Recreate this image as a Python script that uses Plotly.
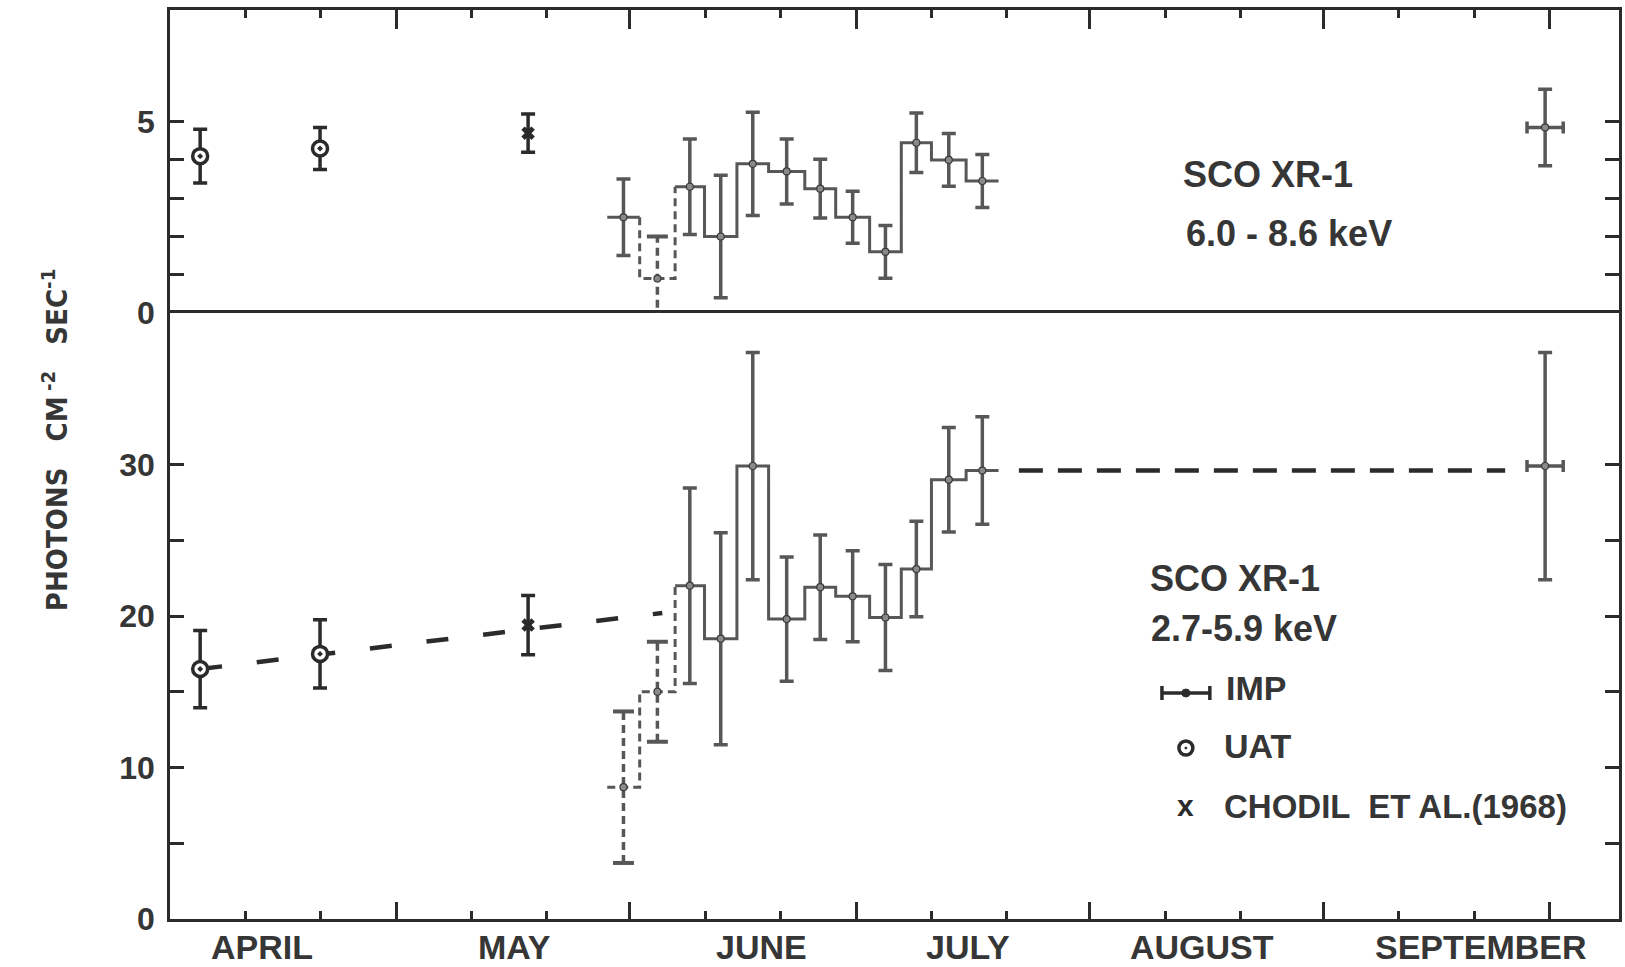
import datetime as dt
import plotly.graph_objects as go

# ---------------------------------------------------------------------------
# Sco X-1 light curves, 1967 (day-of-year on the x axis)
# ---------------------------------------------------------------------------
YEAR = 1967

MONTHS = ["APRIL", "MAY", "JUNE", "JULY", "AUGUST", "SEPTEMBER"]

# UAT measurements
UAT_DAY = [95.0, 110.9]
UAT_HARD = [4.1, 4.3]
UAT_HARD_ERR = [0.7, 0.55]
UAT_SOFT = [16.5, 17.5]
UAT_SOFT_ERR = [2.55, 2.25]

# Chodil et al. (1968)
CHODIL_DAY = [138.5]
CHODIL_HARD = [4.7]
CHODIL_HARD_ERR = [0.5]
CHODIL_SOFT = [19.4]
CHODIL_SOFT_ERR = [1.95]

# IMP binned fluxes: bin edges (day of year) and one value per bin
IMP_EDGES = [149.0, 153.3, 158.0, 161.9, 166.2, 170.4, 175.2,
             179.3, 183.8, 188.0, 192.0, 196.6, 200.9]
IMP_HARD = [2.5, 0.9, 3.3, 2.0, 3.9, 3.7, 3.25, 2.5, 1.6, 4.45, 4.0, 3.45]
IMP_HARD_ERR = [1.0, 1.1, 1.25, 1.6, 1.35, 0.85, 0.77, 0.68, 0.69, 0.78, 0.69, 0.69]
IMP_SOFT = [8.7, 15.0, 22.0, 18.5, 29.9, 19.8, 21.9, 21.3, 19.9, 23.1, 29.0, 29.6]
IMP_SOFT_ERR = [5.0, 3.3, 6.45, 7.0, 7.5, 4.1, 3.45, 3.0, 3.5, 3.15, 3.45, 3.55]

# IMP point at the end of September
SEPT_DAY = [273.4]
SEPT_DAY_ERR = [2.4]
SEPT_HARD = [4.85]
SEPT_HARD_ERR = [1.0]
SEPT_SOFT = [29.9]
SEPT_SOFT_ERR = [7.5]

# Dashed guide lines in the 2.7-5.9 keV panel
TREND_DAY = [95.0, 156.3]
TREND_SOFT = [16.5, 20.2]
LEVEL_DAY = [203.6, 268.1]
LEVEL_SOFT = [29.6, 29.6]

# ---------------------------------------------------------------------------
INK = "#2b2b2b"
GREY = "#575757"
TXT = "#363636"
FONT = "Liberation Sans, Arial, DejaVu Sans, sans-serif"
NARROW = "Liberation Sans Narrow, DejaVu Sans Condensed, Liberation Sans, sans-serif"

W, H = 1625, 967
ML, MR, MT, MB = 170, 3, 10, 48
PW, PH = W - ML - MR, H - MT - MB


def px_x(p):
    return (p - ML) / PW


def px_y(p):
    return (H - MB - p) / PH


def doy(m, d):
    return dt.date(YEAR, m, d).timetuple().tm_yday


month_starts = [doy(m, 1) for m in range(5, 11)]
minor_days = [doy(m, d) for m in range(4, 10) for d in (11, 21)]

fig = go.Figure()


def add_panel(xa, ya, uat, uat_err, cho, cho_err, imp, imp_err, sept, sept_err, dashed):
    centers = [(a + b) / 2 for a, b in zip(IMP_EDGES[:-1], IMP_EDGES[1:])]
    n = len(imp)

    # step outline, split into solid / dashed runs
    segs = []
    for i in range(n):
        segs.append((IMP_EDGES[i], imp[i], IMP_EDGES[i + 1], imp[i], i in dashed))
        if i < n - 1:
            segs.append((IMP_EDGES[i + 1], imp[i], IMP_EDGES[i + 1], imp[i + 1],
                         (i in dashed) or (i + 1 in dashed)))
    runs = []
    for s in segs:
        if runs and runs[-1][0] == s[4]:
            runs[-1][1].append(s[2]); runs[-1][2].append(s[3])
        else:
            runs.append([s[4], [s[0], s[2]], [s[1], s[3]]])
    for is_dash, xs, ys in runs:
        fig.add_trace(go.Scatter(
            x=xs, y=ys, mode="lines", xaxis=xa, yaxis=ya, showlegend=False,
            line=dict(color=GREY, width=3, dash="8px,5px" if is_dash else "solid"),
            hoverinfo="skip"))

    # dashed error bars
    for i in dashed:
        fig.add_trace(go.Scatter(
            x=[centers[i], centers[i]], y=[imp[i] - imp_err[i], imp[i] + imp_err[i]],
            mode="lines+markers", xaxis=xa, yaxis=ya, showlegend=False,
            line=dict(color=GREY, width=3.5, dash="8px,5px"),
            marker=dict(symbol="line-ew", size=15, line=dict(color=GREY, width=4)),
            hoverinfo="skip"))

    solid = [i for i in range(n) if i not in dashed]
    fig.add_trace(go.Scatter(
        x=[centers[i] for i in solid], y=[imp[i] for i in solid],
        mode="markers", xaxis=xa, yaxis=ya, showlegend=False,
        marker=dict(size=1, color=GREY),
        error_y=dict(type="data", array=[imp_err[i] for i in solid],
                     color=GREY, thickness=3.5, width=7)))
    fig.add_trace(go.Scatter(
        x=centers, y=imp, mode="markers", xaxis=xa, yaxis=ya, showlegend=False,
        marker=dict(size=7, color="#8a8a8a", line=dict(color="#3a3a3a", width=1.2))))

    # September IMP point
    fig.add_trace(go.Scatter(
        x=SEPT_DAY, y=sept, mode="markers", xaxis=xa, yaxis=ya, showlegend=False,
        marker=dict(size=7, color="#8a8a8a", line=dict(color="#3a3a3a", width=1.2)),
        error_y=dict(type="data", array=sept_err, color=GREY, thickness=3.5, width=7),
        error_x=dict(type="data", array=SEPT_DAY_ERR, color=GREY, thickness=3.5, width=6)))

    # UAT
    fig.add_trace(go.Scatter(
        x=UAT_DAY, y=uat, mode="markers", xaxis=xa, yaxis=ya, showlegend=False,
        marker=dict(symbol="circle-dot", size=15, color="white",
                    line=dict(color=INK, width=3.5)),
        error_y=dict(type="data", array=uat_err, color=INK, thickness=3.5, width=7)))

    # Chodil et al.
    fig.add_trace(go.Scatter(
        x=CHODIL_DAY, y=cho, mode="markers", xaxis=xa, yaxis=ya, showlegend=False,
        marker=dict(symbol="x", size=12, color=INK, line=dict(width=0)),
        error_y=dict(type="data", array=cho_err, color=INK, thickness=3.5, width=7)))


# guide lines below the markers
fig.add_trace(go.Scatter(x=TREND_DAY, y=TREND_SOFT, mode="lines", showlegend=False,
                         line=dict(color=INK, width=4.5, dash="22px,35px")))
fig.add_trace(go.Scatter(x=LEVEL_DAY, y=LEVEL_SOFT, mode="lines", showlegend=False,
                         line=dict(color=INK, width=4.5, dash="24px,15px")))

add_panel("x", "y", UAT_SOFT, UAT_SOFT_ERR, CHODIL_SOFT, CHODIL_SOFT_ERR,
          IMP_SOFT, IMP_SOFT_ERR, SEPT_SOFT, SEPT_SOFT_ERR, dashed=[0, 1])
add_panel("x2", "y2", UAT_HARD, UAT_HARD_ERR, CHODIL_HARD, CHODIL_HARD_ERR,
          IMP_HARD, IMP_HARD_ERR, SEPT_HARD, SEPT_HARD_ERR, dashed=[1])

axis_common = dict(showline=True, linecolor=INK, linewidth=2.5, ticks="inside",
                   tickcolor=INK, tickwidth=2.5, showgrid=False, zeroline=False)
tick_font = dict(family=FONT, size=32, color=TXT, weight="bold")
x_minor = dict(tickvals=minor_days, ticks="inside", ticklen=8, tickwidth=2.5, tickcolor=INK)

fig.update_layout(
    width=W, height=H,
    margin=dict(l=ML, r=MR, t=MT, b=MB),
    paper_bgcolor="white", plot_bgcolor="white",
    showlegend=False,
    xaxis=dict(domain=[0, 1], anchor="y", range=[91, 283.2], tickvals=month_starts,
               ticklen=17, showticklabels=False, mirror=True, minor=x_minor, **axis_common),
    xaxis2=dict(domain=[0, 1], anchor="y2", matches="x", side="top", tickvals=month_starts,
                ticklen=19, showticklabels=False, mirror=False, minor=x_minor, **axis_common),
    yaxis=dict(domain=[0, 2 / 3], anchor="x", range=[0, 40],
               tickvals=[0, 10, 20, 30], ticktext=["0", "10", "20", "30"],
               minor=dict(tickvals=[5, 15, 25], ticks="inside", ticklen=14,
                          tickwidth=2.5, tickcolor=INK),
               ticklen=14, mirror="ticks", tickfont=tick_font, ticklabelstandoff=6,
               **axis_common),
    yaxis2=dict(domain=[2 / 3, 1], anchor="x2", range=[0, 7.92],
                tickvals=[0, 5], ticktext=["0", "5"],
                minor=dict(tickvals=[1, 2, 3, 4], ticks="inside", ticklen=14,
                           tickwidth=2.5, tickcolor=INK),
                ticklen=14, mirror="ticks", tickfont=tick_font, ticklabelstandoff=6,
                **axis_common),
)

# month names, centred in each month
month_label_at = [103.2, 136.7, 169.4, 196.8, 227.9, 264.9]
for name, xd in zip(MONTHS, month_label_at):
    fig.add_annotation(x=xd, y=px_y(947), xref="x", yref="paper", text=name,
                       showarrow=False, xanchor="center", yanchor="middle",
                       font=dict(family=FONT, size=34, color=TXT, weight="bold"))

# y-axis title
fig.add_annotation(x=px_x(55), y=px_y(440), xref="paper", yref="paper",
                   text="PHOTONS\u2003CM\u2009<sup>-2</sup>\u2003SEC<sup>-1</sup>",
                   textangle=-90, showarrow=False, xanchor="center", yanchor="middle",
                   font=dict(family=NARROW, size=29, color=TXT, weight="bold"))


def label(text, x, y, size=36):
    fig.add_annotation(x=px_x(x), y=px_y(y), xref="paper", yref="paper", text=text,
                       showarrow=False, xanchor="left", yanchor="middle",
                       font=dict(family=FONT, size=size, color=TXT, weight="bold"))


label("SCO XR-1", 1183, 175)
label("6.0 - 8.6 keV", 1186, 233)
label("SCO XR-1", 1150, 578)
label("2.7-5.9 keV", 1151, 628)
label("IMP", 1226, 688, 34)
label("UAT", 1224, 746, 34)
label("CHODIL  ET AL.(1968)", 1224, 806, 33)

# legend keys
def seg(x0, y0, x1, y1, w=3.5, color=INK):
    fig.add_shape(type="line", xref="paper", yref="paper",
                  x0=px_x(x0), y0=px_y(y0), x1=px_x(x1), y1=px_y(y1),
                  line=dict(color=color, width=w))


seg(1164, 693, 1212, 693)
seg(1164, 686, 1164, 700)
seg(1212, 686, 1212, 700)
fig.add_shape(type="circle", xref="paper", yref="paper",
              x0=px_x(1184), x1=px_x(1192), y0=px_y(697), y1=px_y(689),
              fillcolor=INK, line=dict(color=INK, width=1))
fig.add_shape(type="circle", xref="paper", yref="paper",
              x0=px_x(1181), x1=px_x(1195), y0=px_y(755), y1=px_y(741),
              fillcolor="white", line=dict(color=INK, width=3.5))
fig.add_shape(type="circle", xref="paper", yref="paper",
              x0=px_x(1187), x1=px_x(1189), y0=px_y(749), y1=px_y(747),
              fillcolor=INK, line=dict(color=INK, width=1))
fig.add_annotation(x=px_x(1188), y=px_y(805), xref="paper", yref="paper", text="x",
                   showarrow=False, xanchor="center", yanchor="middle",
                   font=dict(family=FONT, size=30, color=INK, weight="bold"))

fig.write_html("out.html")
